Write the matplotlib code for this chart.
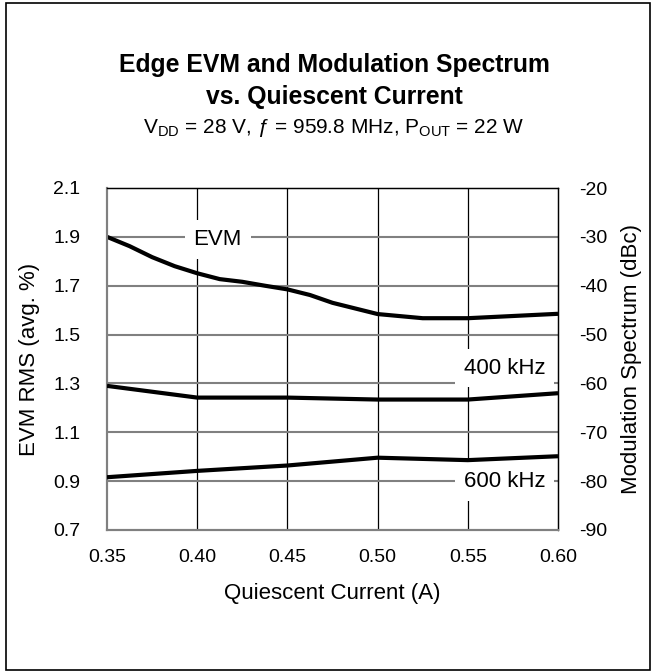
import matplotlib
matplotlib.use("Agg")
import matplotlib.pyplot as plt
from matplotlib.patches import Rectangle

plt.rcParams['font.family'] = ['Liberation Sans', 'DejaVu Sans']
plt.rcParams['mathtext.fontset'] = 'custom'
plt.rcParams['mathtext.rm'] = 'Liberation Sans'
plt.rcParams['mathtext.it'] = 'Liberation Sans:italic'

# ---- data ----
evm_x = [0.35, 0.3625, 0.375, 0.3875, 0.40, 0.4125, 0.425, 0.4375, 0.45,
         0.4625, 0.475, 0.50, 0.525, 0.55, 0.60]
evm_y = [1.90, 1.862, 1.817, 1.780, 1.751, 1.727, 1.716, 1.700, 1.685,
         1.662, 1.630, 1.584, 1.567, 1.567, 1.585]
mod_x = [0.35, 0.40, 0.45, 0.50, 0.55, 0.60]
mod_400 = [-60.5, -62.9, -62.9, -63.3, -63.3, -62.0]
mod_600 = [-79.2, -77.9, -76.8, -75.2, -75.7, -74.9]
x_ticks = [0.35, 0.40, 0.45, 0.50, 0.55, 0.60]
x_ticklabels = ["0.35", "0.40", "0.45", "0.50", "0.55", "0.60"]
left_ticks = [0.7, 0.9, 1.1, 1.3, 1.5, 1.7, 1.9, 2.1]
right_ticks = [-90, -80, -70, -60, -50, -40, -30, -20]

W, H = 651, 671
fig = plt.figure(figsize=(W / 100, H / 100), dpi=100)
ax = fig.add_axes([107 / W, 1 - 530 / H, (558 - 107) / W, (530 - 188) / H])
ax2 = ax.twinx()

ax.set_xlim(0.35, 0.60)
ax.set_ylim(0.7, 2.1)
ax2.set_ylim(-90, -20)

# grid
for xv in x_ticks[1:-1]:
    ax.axvline(xv, color='black', lw=0.9, zorder=1)
for yv in left_ticks[1:-1]:
    ax.axhline(yv, color='#808080', lw=1.5, zorder=1)

ax.plot(evm_x, evm_y, color='black', lw=3.0, zorder=3, solid_capstyle='butt')
ax2.plot(mod_x, mod_400, color='black', lw=3.0, zorder=3, solid_capstyle='butt')
ax2.plot(mod_x, mod_600, color='black', lw=3.0, zorder=3, solid_capstyle='butt')

tick_fs = 14
ax.set_xticks(x_ticks)
ax.set_xticklabels(x_ticklabels, fontsize=tick_fs)
ax.set_yticks(left_ticks)
ax.set_yticklabels([f"{v:.1f}" for v in left_ticks], fontsize=tick_fs)
ax2.set_yticks(right_ticks)
ax2.set_yticklabels([str(v) for v in right_ticks], fontsize=tick_fs)
ax.tick_params(axis='both', length=0, pad=14)
ax.tick_params(axis='y', pad=19)
ax2.tick_params(axis='y', length=0, pad=15)

for a in (ax, ax2):
    a.spines['top'].set_color('black')
    a.spines['top'].set_linewidth(0.9)
    a.spines['right'].set_color('black')
    a.spines['right'].set_linewidth(0.9)
    a.spines['left'].set_color('#808080')
    a.spines['left'].set_linewidth(1.5)
    a.spines['bottom'].set_color('#808080')
    a.spines['bottom'].set_linewidth(1.5)

ax.set_xlabel("Quiescent Current (A)", fontsize=16, labelpad=12)
ax.set_ylabel("EVM RMS (avg. %)", fontsize=16, labelpad=10)
ax2.set_ylabel("Modulation Spectrum (dBc)", fontsize=16, labelpad=10)

lab_fs = 16
box = dict(boxstyle='square,pad=0.4', fc='white', ec='none')
ax.text(0.4113, 1.89, "EVM", fontsize=lab_fs, ha='center', va='center',
        bbox=box, zorder=2)
ax.text(0.5703, 1.363, "400 kHz", fontsize=lab_fs, ha='center', va='center',
        bbox=box, zorder=2)
ax.text(0.5703, 0.898, "600 kHz", fontsize=lab_fs, ha='center', va='center',
        bbox=box, zorder=2)

fig.text(334 / W, 1 - 65 / H, "Edge EVM and Modulation Spectrum", fontsize=17.8,
         fontweight='bold', ha='center', va='center')
fig.text(334 / W, 1 - 97 / H, "vs. Quiescent Current", fontsize=17.8,
         fontweight='bold', ha='center', va='center')
fig.text(334 / W, 1 - 128 / H,
         r"V$_{\mathrm{DD}}$ = 28 V, ƒ = 959.8 MHz, P$_{\mathrm{OUT}}$ = 22 W",
         fontsize=15, ha='center', va='center')

fig.patches.append(Rectangle((5.5 / W, 1 - 670 / H), (650 - 5.5) / W, (670 - 2.5) / H,
                             transform=fig.transFigure, fill=False,
                             ec='black', lw=1.2))

fig.savefig("out.png", dpi=100)
